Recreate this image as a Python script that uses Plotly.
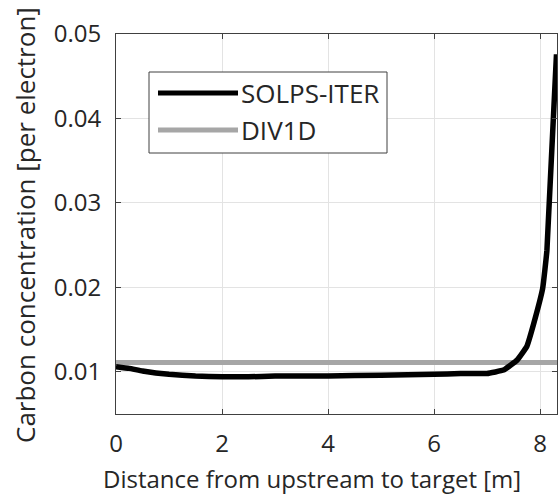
import plotly.graph_objects as go

# Distance along the flux tube from upstream to the target [m]
solps_x = [0.0, 0.25, 0.5, 1.0, 1.5, 2.0, 2.5, 3.0, 4.0, 5.0, 6.0, 6.5, 7.0, 7.31, 7.57, 7.75, 7.88, 8.05, 8.13, 8.31]
# Carbon concentration per electron, SOLPS-ITER profile
solps_y = [0.0106, 0.0104, 0.0101, 0.0097, 0.0095, 0.0094, 0.0094, 0.0095, 0.0095, 0.0096, 0.0097, 0.0098, 0.0098, 0.0102, 0.0114, 0.0130, 0.0157, 0.0199, 0.0244, 0.0476]

# DIV1D: flat carbon concentration along the whole leg
div1d_x = [0.0, 8.32]
div1d_y = [0.0111, 0.0111]

x_ticks = [0, 2, 4, 6, 8]
y_ticks = [0.01, 0.02, 0.03, 0.04, 0.05]
y_tick_text = ["0.01", "0.02", "0.03", "0.04", "0.05"]

series_names = ["SOLPS-ITER", "DIV1D"]
series_colors = ["#000000", "#a6a6a6"]

FONT = "'Open Sans', sans-serif"
TXT = "#262626"

# plot area in pixels: left 116, right 557, top 34, bottom 414
L, R, T, B = 116, 557, 34, 414
W, H = R - L, B - T


def px(x):
    return (x - L) / W


def py(y):
    return (B - y) / H


fig = go.Figure()
fig.add_trace(go.Scatter(x=div1d_x, y=div1d_y, mode="lines",
                         line=dict(color=series_colors[1], width=5),
                         name=series_names[1], showlegend=False))
fig.add_trace(go.Scatter(x=solps_x, y=solps_y, mode="lines",
                         line=dict(color=series_colors[0], width=5.5, shape="spline", smoothing=0.3),
                         name=series_names[0], showlegend=False))

axis_common = dict(
    showline=True, linecolor="#404040", linewidth=1, mirror="allticks",
    ticks="inside", ticklen=5, tickcolor="#404040",
    showgrid=True, gridcolor="#e3e3e3", gridwidth=1, zeroline=False,
    tickfont=dict(family=FONT, size=24, color=TXT),
)

fig.update_xaxes(range=[0, 8.32], tickvals=x_ticks, ticklabelstandoff=8, **axis_common)
fig.update_yaxes(range=[0.005, 0.05], tickvals=y_ticks, ticktext=y_tick_text,
                 ticklabelstandoff=9, **axis_common)

# Axis titles
fig.add_annotation(xref="paper", yref="paper", x=px(312), y=py(478),
                   text="Distance from upstream to target [m]", showarrow=False,
                   xanchor="center", yanchor="middle",
                   font=dict(family=FONT, size=24, color=TXT))
fig.add_annotation(xref="paper", yref="paper", x=px(25), y=py(225),
                   text="Carbon concentration [per electron]", showarrow=False,
                   textangle=-90, xanchor="center", yanchor="middle",
                   font=dict(family=FONT, size=26, color=TXT))

# Legend box with long line samples
fig.add_shape(type="rect", xref="paper", yref="paper",
              x0=px(149), x1=px(387), y0=py(153), y1=py(72),
              line=dict(color="#404040", width=1), fillcolor="white", layer="above")
for name, color, row in zip(series_names, series_colors, [93, 130]):
    fig.add_shape(type="line", xref="paper", yref="paper",
                  x0=px(158), x1=px(238), y0=py(row), y1=py(row),
                  line=dict(color=color, width=5), layer="above")
    fig.add_annotation(xref="paper", yref="paper", x=px(239), y=py(row),
                       text=name, showarrow=False, xanchor="left", yanchor="middle",
                       font=dict(family=FONT, size=26, color=TXT))

fig.update_layout(
    width=560, height=496,
    margin=dict(l=L, r=560 - R, t=T, b=496 - B),
    paper_bgcolor="white", plot_bgcolor="white",
    showlegend=False,
)

fig.write_html("out.html")
